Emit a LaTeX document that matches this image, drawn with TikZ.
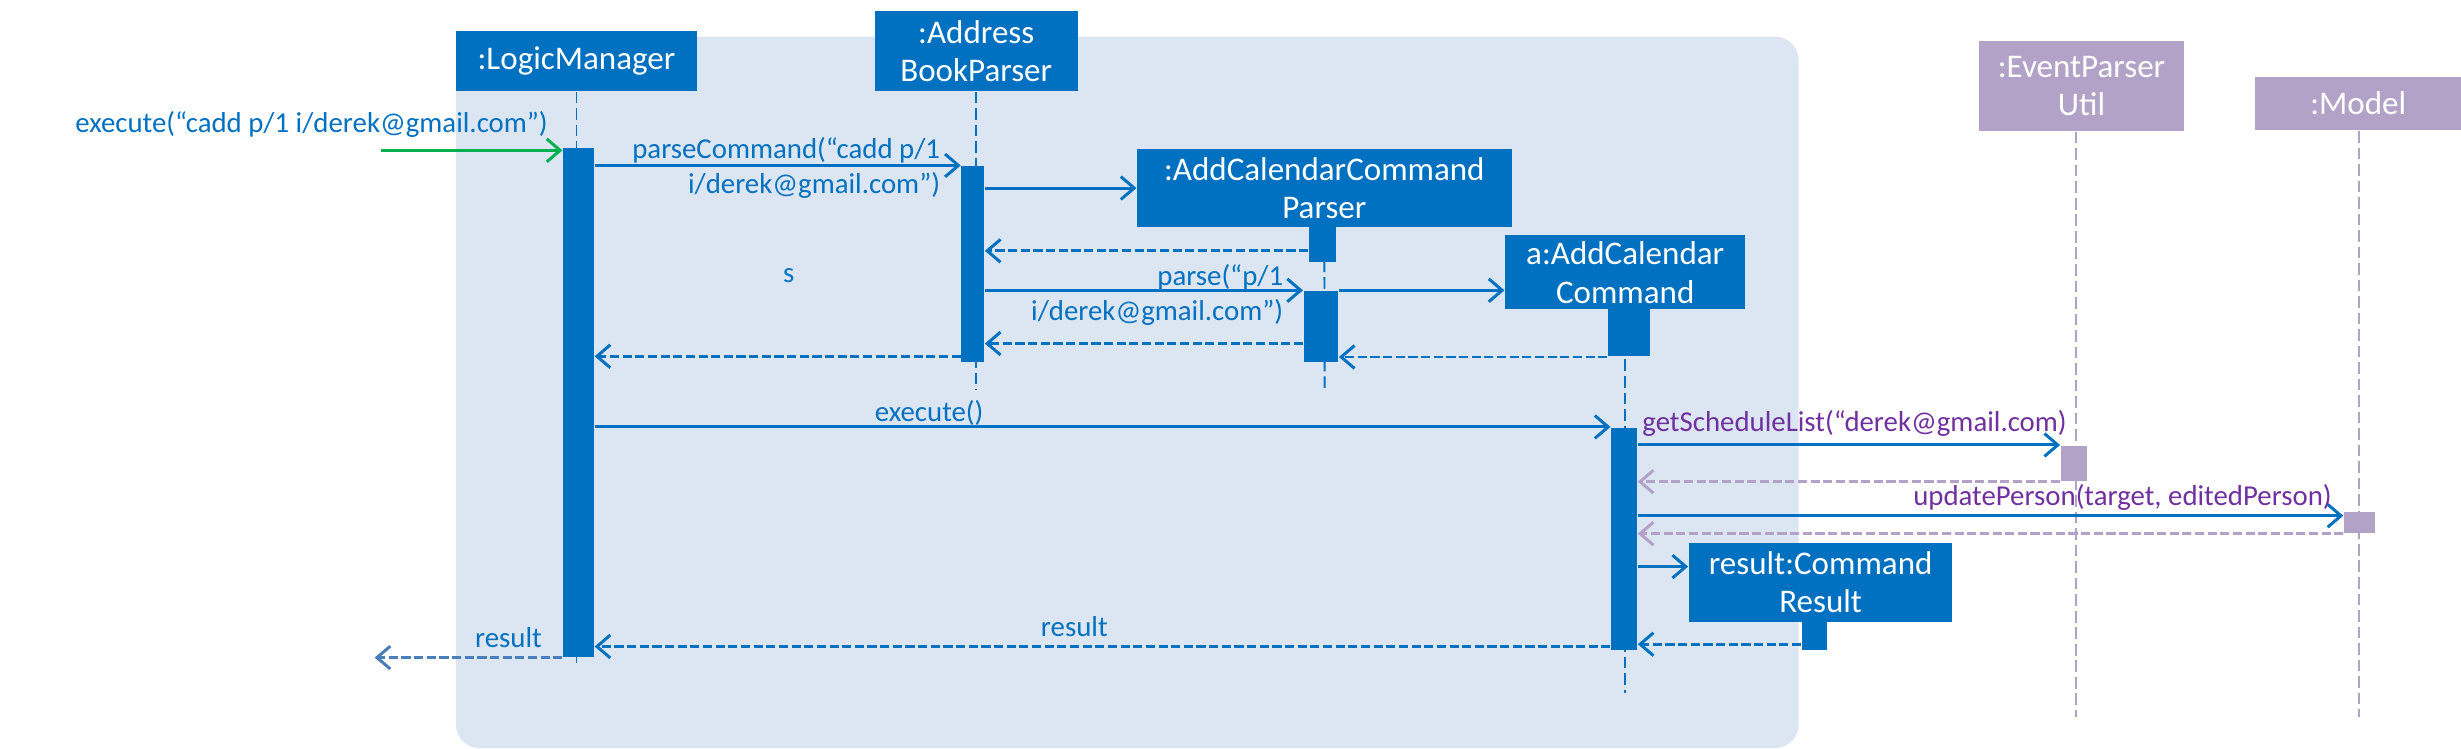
\documentclass[tikz,border=0pt]{standalone}
\usepackage{fontspec}
\setmainfont{Carlito}
\usetikzlibrary{arrows.meta}

\newlength{\pxu}
\setlength{\pxu}{0.15695mm}

\definecolor{umlblue}{HTML}{0070C0}
\definecolor{umllilac}{HTML}{B3A2C7}
\definecolor{umlpurple}{HTML}{7030A0}
\definecolor{umlgreen}{HTML}{00B050}
\definecolor{panelblue}{HTML}{DCE6F2}
\definecolor{outblue}{HTML}{4A7EBB}

\begin{document}
\begin{tikzpicture}[
    x=\pxu, y=-\pxu,
    >={Straight Barb[length=3.8pt, width=6.5pt]},
    head/.style  = {fill=umlblue, text=white, inner sep=0pt, align=center,
                    font=\fontsize{9.4}{11}\selectfont},
    headB/.style = {head, fill=umllilac},
    act/.style   = {fill=umlblue, inner sep=0pt},
    actB/.style  = {act, fill=umllilac},
    life/.style  = {draw=umlblue, line width=0.55pt, dash pattern=on 3.3pt off 1.4pt},
    lifeB/.style = {life, draw=umllilac},
    msg/.style   = {->, draw=umlblue, line width=0.85pt},
    ret/.style   = {msg, dash pattern=on 2.6pt off 1pt},
    retB/.style  = {ret, draw=umllilac},
    lab/.style   = {font=\fontsize{8.2}{10}\selectfont, text=umlblue, inner sep=0pt},
    labP/.style  = {lab, text=umlpurple}
  ]
  \useasboundingbox (0,0) rectangle (1568,477);

  % --- panel ---
  \fill[panelblue, rounded corners=15\pxu] (290.5,23.4) rectangle (1146,476.6);

  % --- object heads ---
  \node[head, minimum width=153.5\pxu, minimum height=38\pxu] (lm) at (367.3,39) {:LogicManager};
  \node[head, minimum width=129.5\pxu, minimum height=51\pxu] (abp) at (622,32.5) {:Address\\BookParser};
  \node[head, minimum width=238.5\pxu, minimum height=49.5\pxu] (accp) at (843.8,119.8) {:AddCalendarCommand\\Parser};
  \node[head, minimum width=153\pxu, minimum height=47\pxu] (acc) at (1035.5,173.5) {a:AddCalendar\\Command};
  \node[headB, minimum width=130.5\pxu, minimum height=57.5\pxu] (epu) at (1326.2,54.8) {:EventParser\\Util};
  \node[headB, minimum width=131\pxu, minimum height=34\pxu] (model) at (1502.5,66) {:Model};
  \node[head, minimum width=168\pxu, minimum height=50\pxu] (cr) at (1160,371) {result:Command\\Result};

  % --- lifeline ends ---
  \coordinate (lmEnd) at (367.3,422.5);
  \coordinate (abpEnd) at (622,248);
  \coordinate (accpEnd) at (844,250);
  \coordinate (accEnd) at (1035.5,441.5);
  \coordinate (epuEnd) at (1322.5,457);
  \coordinate (modelEnd) at (1503,457);

  \draw[life] (lm.south) -- (lmEnd);
  \draw[life] (abp.south) -- (abpEnd);
  \draw[life] (accp.south) -- (accpEnd);
  \draw[life] (acc.south) -- (accEnd);
  \draw[lifeB] (epu.south -| epuEnd) -- (epuEnd);
  \draw[lifeB] (model.south -| modelEnd) -- (modelEnd);

  % --- activation bars ---
  \node[act, minimum width=19.6\pxu, minimum height=324\pxu] (lmAct) at (368.6,256.5) {};
  \node[act, minimum width=14.5\pxu, minimum height=124.7\pxu] (abpAct) at (619.8,168.2) {};
  \node[act, minimum width=17\pxu, minimum height=22.5\pxu] (accpActA) at (842.5,155.8) {};
  \node[act, minimum width=22\pxu, minimum height=45\pxu] (accpActB) at (841.6,207.9) {};
  \node[act, minimum width=26.5\pxu, minimum height=30\pxu] (accActA) at (1037.8,212) {};
  \node[act, minimum width=16.5\pxu, minimum height=141.5\pxu] (accActB) at (1034.8,343.2) {};
  \node[actB, minimum width=17\pxu, minimum height=22.5\pxu] (epuAct) at (1321.5,295.2) {};
  \node[actB, minimum width=19.5\pxu, minimum height=13.5\pxu] (modelAct) at (1503.2,332.8) {};
  \node[act, minimum width=16\pxu, minimum height=18\pxu] (crAct) at (1156,405) {};

  % --- message anchors ---
  \coordinate (found) at (243,95.8);
  \coordinate (out) at (238.7,418.4);
  \coordinate (retA) at ([yshift=-4\pxu]accpActA.west);
  \coordinate (retB) at ([yshift=12\pxu]accpActB.south west);
  \coordinate (retC) at ([yshift=4\pxu]abpAct.south west);
  \coordinate (updIn) at ([yshift=-3\pxu]modelAct.north west);
  \coordinate (crIn) at ([yshift=10\pxu]cr.west);
  \coordinate (retD) at ([yshift=4\pxu]crAct.south west);
  \coordinate (retE) at ([yshift=2.5\pxu]accActB.south west);

  % --- messages ---
  \draw[msg, draw=umlgreen] (found) -- (found -| lmAct.west);
  \draw[msg] (lmAct.east |- abpAct.north) -- (abpAct.north west);
  \draw[msg] (abpAct.east |- accp.west) -- (accp.west);
  \draw[ret] (retA) -- (abpAct.east |- retA);
  \draw[msg] (abpAct.east |- accpActB.north) -- (accpActB.north west);
  \draw[msg] (accpActB.north east) -- (acc.west |- accpActB.north east);
  \draw[ret] (accActA.south west) -- (accpActB.east |- accActA.south west);
  \draw[ret] (retB) -- (abpAct.east |- retB);
  \draw[ret] (retC) -- (lmAct.east |- retC);
  \draw[msg] (lmAct.east |- accActB.north) -- (accActB.north west);
  \draw[msg] (accActB.east |- epuAct.north) -- (epuAct.north west);
  \draw[retB] (epuAct.south west) -- (accActB.east |- epuAct.south west);
  \draw[msg] (accActB.east |- updIn) -- (updIn);
  \draw[retB] (modelAct.south west) -- (accActB.east |- modelAct.south west);
  \draw[msg] (accActB.east |- crIn) -- (crIn);
  \draw[ret] (retD) -- (accActB.east |- retD);
  \draw[ret] (retE) -- (lmAct.east |- retE);
  \draw[ret, draw=outblue] (lmAct.south west) -- (out |- lmAct.south west);

  % --- message labels ---
  \node[lab] (lExec) at (198.5,79) {execute(“cadd p/1 i/derek@gmail.com”)};
  \node[lab, align=right, anchor=east] (lParseCmd) at (599.4,106.8) {parseCommand(“cadd p/1\\i/derek@gmail.com”)};
  \node[lab] (lS) at (502.6,175.9) {s};
  \node[lab, align=right, anchor=east] (lParse) at (818,187.9) {parse(“p/1\\i/derek@gmail.com”)};
  \node[lab] (lExecB) at (592,263) {execute()};
  \node[labP, anchor=west] (lSched) at (1046,270) {getScheduleList(“derek@gmail.com)};
  \node[labP, anchor=east] (lUpd) at (1486,316.7) {updatePerson(target, editedPerson)};
  \node[lab] (lRes) at (684.5,399) {result};
  \node[lab] (lResOut) at (324,406.5) {result};

\end{tikzpicture}
\end{document}
